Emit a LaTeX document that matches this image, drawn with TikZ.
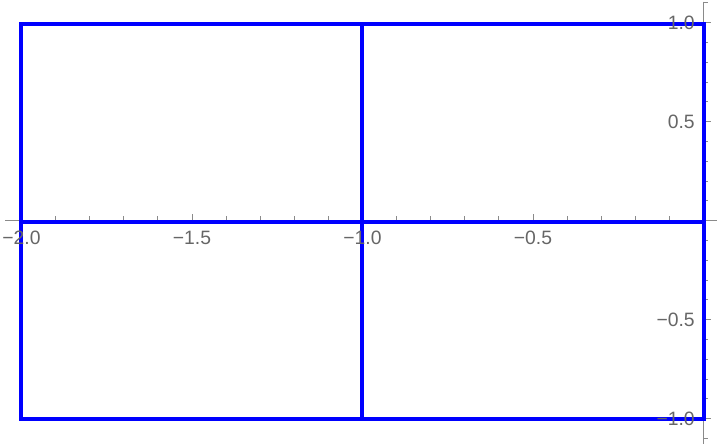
\documentclass[tikz,border=0pt]{standalone}
\usepackage{fontspec}
\setmainfont{Liberation Sans}
\definecolor{axisgray}{HTML}{8A8A8A}
\definecolor{labelgray}{HTML}{666666}
\begin{document}
\begin{tikzpicture}[x=255.75pt,y=148.5pt,
  plotline/.style={draw={rgb,255:red,0;green,0;blue,255}, line width=3pt},
  axisline/.style={axisgray, line width=0.8pt},
  tickline/.style={axisgray, line width=0.7pt},
  ticklabel/.style={text=labelgray, font=\fontsize{14.5}{17}\selectfont, inner sep=0pt}]
\useasboundingbox (-2.063,-1.1278) rectangle (0.0484,1.1146);
% axes
\draw[axisline] (-2.048,0) -- (0.039,0);
\draw[axisline] (0,1.106) -- (0,-1.13);
% x ticks
\foreach \i in {1,...,20}{
  \pgfmathsetmacro\xx{-\i/10}
  \pgfmathsetmacro\len{mod(\i,5)==0 ? 0.0354 : 0.0253}
  \draw[tickline] (\xx,0) -- (\xx,\len);
}
% y ticks
\foreach \i in {-11,...,-1,1,2,...,11}{
  \pgfmathsetmacro\yy{\i/10}
  \pgfmathsetmacro\len{mod(abs(\i),5)==0 ? 0.022 : 0.0125}
  \draw[tickline] (0,\yy) -- (\len,\yy);
}
% plotted lines
\draw[plotline] (-2,-1.0015) rectangle (0,0.9935);
\draw[plotline] (-1,-1.0015) -- (-1,0.9935);
\draw[plotline] (-2,-0.009) -- (0,-0.009);
% x tick labels
\node[ticklabel, anchor=base] (xl1) at (-2,-0.1227) {−2.0};
\node[ticklabel, anchor=base] (xl2) at (-1.5,-0.1227) {−1.5};
\node[ticklabel, anchor=base] (xl3) at (-1,-0.1227) {−1.0};
\node[ticklabel, anchor=base] (xl4) at (-0.5,-0.1227) {−0.5};
% y tick labels
\node[ticklabel, anchor=base east] (yl1) at (-0.025,0.966) {1.0};
\node[ticklabel, anchor=base east] (yl2) at (-0.025,0.466) {0.5};
\node[ticklabel, anchor=base east] (yl3) at (-0.025,-0.534) {−0.5};
\node[ticklabel, anchor=base east] (yl4) at (-0.025,-1.034) {−1.0};
\end{tikzpicture}
\end{document}
